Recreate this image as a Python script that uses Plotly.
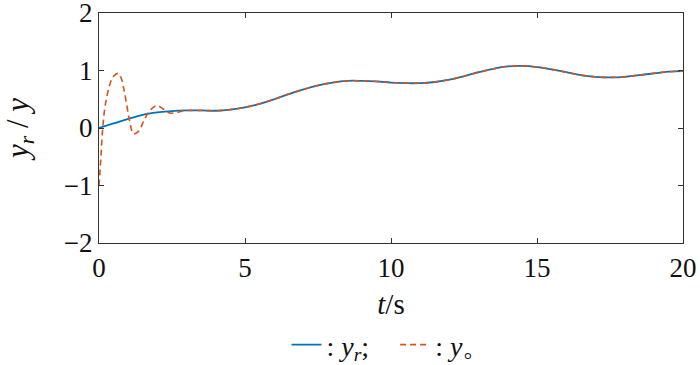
import plotly.graph_objects as go

# reference signal y_r
t_r = [0, 0.5, 1.0, 1.5, 2.0, 2.5, 3.0, 3.5, 4.0, 4.5, 5.0, 5.5, 6.0, 6.5, 7.0, 7.5,
       8.0, 8.5, 9.0, 9.5, 10.0, 10.5, 11.0, 11.5, 12.0, 12.5, 13.0, 13.5, 14.0,
       14.5, 15.0, 15.5, 16.0, 16.5, 17.0, 17.5, 18.0, 18.5, 19.0, 19.5, 20.0]
y_r = [0.0, 0.08, 0.16, 0.23, 0.27, 0.295, 0.305, 0.305, 0.30, 0.32, 0.36, 0.42,
       0.50, 0.59, 0.67, 0.74, 0.79, 0.82, 0.82, 0.81, 0.79, 0.78, 0.78, 0.80,
       0.84, 0.90, 0.97, 1.03, 1.07, 1.08, 1.06, 1.02, 0.97, 0.92, 0.89, 0.88,
       0.89, 0.92, 0.95, 0.98, 0.99]

# output y
t_y = [0, 0.06, 0.12, 0.2, 0.3, 0.4, 0.5, 0.65, 0.75, 0.85, 0.95, 1.05, 1.18,
       1.35, 1.55, 1.75, 1.98, 2.2, 2.43, 2.65, 2.9, 3.2, 3.5, 4.0, 4.5, 5.0,
       5.5, 6.0, 6.5, 7.0, 7.5, 8.0, 8.5, 9.0, 9.5, 10.0, 10.5, 11.0, 11.5,
       12.0, 12.5, 13.0, 13.5, 14.0, 14.5, 15.0, 15.5, 16.0, 16.5, 17.0, 17.5,
       18.0, 18.5, 19.0, 19.5, 20.0]
y_o = [-1.0, -0.55, -0.05, 0.35, 0.62, 0.8, 0.9, 0.95, 0.88, 0.68, 0.4, 0.12,
       -0.1, -0.06, 0.14, 0.31, 0.39, 0.33, 0.26, 0.27, 0.3, 0.305, 0.305,
       0.30, 0.32, 0.36, 0.42, 0.50, 0.59, 0.67, 0.74, 0.79, 0.82, 0.82, 0.81,
       0.79, 0.78, 0.78, 0.80, 0.84, 0.90, 0.97, 1.03, 1.07, 1.08, 1.06, 1.02,
       0.97, 0.92, 0.89, 0.88, 0.89, 0.92, 0.95, 0.98, 0.99]

x_ticks = [0, 5, 10, 15, 20]
y_ticks = [-2, -1, 0, 1, 2]
y_tick_text = ["\u22122", "\u22121", "0", "1", "2"]

FONT = "Liberation Serif, Times New Roman, serif"

fig = go.Figure()
fig.add_trace(go.Scatter(
    x=t_r, y=y_r, mode="lines", line=dict(color="#0072BD", width=1.8, shape="spline"),
    name=": <i>y</i><sub><i>r</i></sub>;&nbsp;&nbsp;&nbsp;"))
fig.add_trace(go.Scatter(
    x=t_y, y=y_o, mode="lines",
    line=dict(color="#D95319", width=1.6, dash="6px,4px", shape="spline"),
    name=": <i>y</i>\u3002"))

axis_common = dict(
    showline=True, linecolor="#333333", linewidth=1.3, mirror="ticks",
    ticks="inside", ticklen=5, tickcolor="#333333", showgrid=False, zeroline=False,
    tickfont=dict(family=FONT, size=27, color="#111111"), automargin=False,
    ticklabeloverflow="allow",
)

fig.update_layout(
    width=700, height=365,
    margin=dict(l=99, r=17, t=13, b=122),
    paper_bgcolor="white", plot_bgcolor="white",
    xaxis=dict(range=[0, 20], tickvals=x_ticks,
               title=dict(text="<i>t</i>/s", font=dict(family=FONT, size=29, color="#111111"),
                          standoff=14),
               **axis_common),
    yaxis=dict(range=[-2, 2], tickvals=y_ticks, ticktext=y_tick_text,
               title=dict(text="<i>y</i><sub><i>r</i></sub> / <i>y</i>",
                          font=dict(family=FONT, size=31, color="#111111"), standoff=30),
               **axis_common),
    legend=dict(orientation="h", xref="paper", x=0.5, xanchor="center",
                yref="container", y=0.055, yanchor="middle",
                font=dict(family=FONT, size=28, color="#111111"),
                itemwidth=30, bgcolor="rgba(0,0,0,0)"),
    showlegend=True,
)

fig.write_html("out.html", config={"displayModeBar": False},
               post_script="document.body.style.margin='0';document.body.style.overflow='hidden';")
